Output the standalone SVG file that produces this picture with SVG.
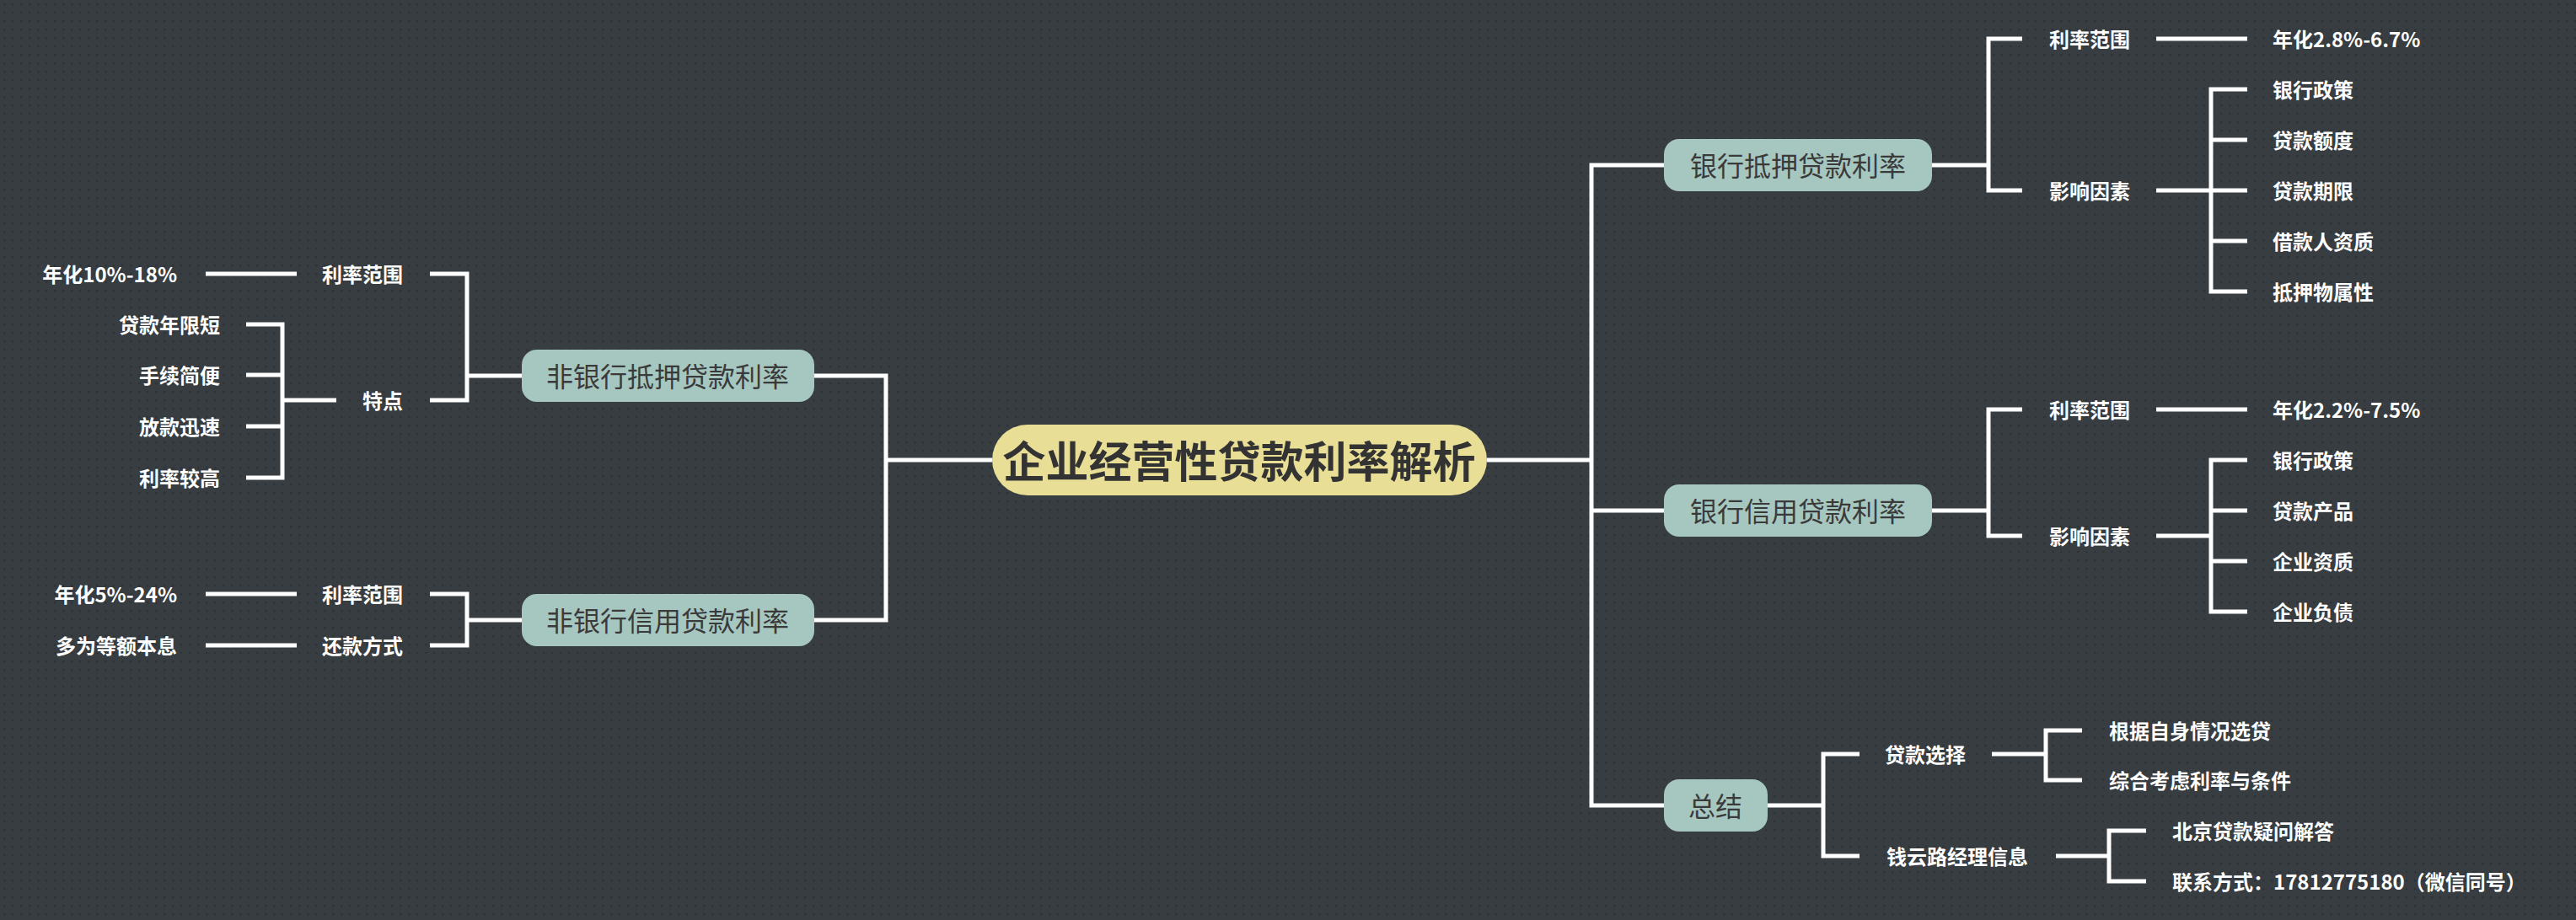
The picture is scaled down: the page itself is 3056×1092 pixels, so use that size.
<svg xmlns="http://www.w3.org/2000/svg" width="3056" height="1092" viewBox="0 0 3056 1092">
<defs>
<pattern id="dots" x="0" y="0" width="10" height="10" patternUnits="userSpaceOnUse">
<rect width="10" height="10" fill="#373d41"/>
<rect x="4" y="4" width="2.5" height="2.5" fill="#2e3337"/>
</pattern>
<style>
.ln{fill:none;stroke:#ffffff;stroke-width:5;stroke-linejoin:miter;stroke-linecap:butt}
.t{font-family:"Noto Sans CJK SC","Microsoft YaHei",sans-serif;font-weight:700;font-size:24px;fill:#ffffff;dominant-baseline:central}
.tl{text-anchor:end}
.br rect{fill:#a6c6c0}
.br text{font-family:"Noto Sans CJK SC","Microsoft YaHei",sans-serif;font-size:32px;fill:#3a3a3a;text-anchor:middle;dominant-baseline:central}
.root rect{fill:#e8de96}
.root text{font-family:"Noto Sans CJK SC","Microsoft YaHei",sans-serif;font-weight:700;font-size:51px;fill:#333333;text-anchor:middle;dominant-baseline:central}
</style>
</defs>
<rect width="3056" height="1092" fill="url(#dots)"/>

<g id="connectors">
<path class="ln" d="M966 446 H1051 V736 H966"/>
<path class="ln" d="M1051 546 H1177"/>
<path class="ln" d="M1764 546 H1888"/>
<path class="ln" d="M1974 196 H1888 V956 H1974"/>
<path class="ln" d="M1888 606 H1974"/>
<path class="ln" d="M619 446 H554"/>
<path class="ln" d="M510 325 H554 V475 H510"/>
<path class="ln" d="M352 325 H244"/>
<path class="ln" d="M399 475 H335"/>
<path class="ln" d="M292 385 H335 V567 H292"/>
<path class="ln" d="M335 445 H292 M335 506 H292"/>
<path class="ln" d="M619 736 H554"/>
<path class="ln" d="M510 705 H554 V766 H510"/>
<path class="ln" d="M352 705 H244"/>
<path class="ln" d="M352 766 H244"/>
<path class="ln" d="M2292 196 H2359"/>
<path class="ln" d="M2399 46 H2359 V226 H2399"/>
<path class="ln" d="M2558 46 H2666"/>
<path class="ln" d="M2558 226 H2666"/>
<path class="ln" d="M2666 106 H2623 V346 H2666"/>
<path class="ln" d="M2623 166 H2666 M2623 286 H2666"/>
<path class="ln" d="M2292 606 H2359"/>
<path class="ln" d="M2399 486 H2359 V636 H2399"/>
<path class="ln" d="M2558 486 H2666"/>
<path class="ln" d="M2558 636 H2623"/>
<path class="ln" d="M2666 546 H2623 V726 H2666"/>
<path class="ln" d="M2623 606 H2666 M2623 666 H2666"/>
<path class="ln" d="M2097 956 H2163"/>
<path class="ln" d="M2206 895 H2163 V1016 H2206"/>
<path class="ln" d="M2363 895 H2427"/>
<path class="ln" d="M2470 867 H2427 V926 H2470"/>
<path class="ln" d="M2439 1016 H2502"/>
<path class="ln" d="M2546 986 H2502 V1046 H2546"/>
</g>

<g id="root" class="root">
<rect x="1177" y="504" width="587" height="84" rx="42"/>
<text x="1470" y="545">企业经营性贷款利率解析</text>
</g>

<g id="n-nonbank-mortgage" class="br">
<rect x="619" y="415" width="347" height="62" rx="18"/>
<text x="792" y="445">非银行抵押贷款利率</text>
</g>
<g id="n-nonbank-credit" class="br">
<rect x="619" y="705" width="347" height="62" rx="18"/>
<text x="792" y="735">非银行信用贷款利率</text>
</g>
<g id="n-bank-mortgage" class="br">
<rect x="1974" y="165" width="318" height="62" rx="18"/>
<text x="2133" y="195">银行抵押贷款利率</text>
</g>
<g id="n-bank-credit" class="br">
<rect x="1974" y="575" width="318" height="62" rx="18"/>
<text x="2133" y="605">银行信用贷款利率</text>
</g>
<g id="n-summary" class="br">
<rect x="1974" y="925" width="123" height="62" rx="18"/>
<text x="2035" y="955">总结</text>
</g>

<g id="l1-range"><text class="t tl" x="478" y="324">利率范围</text></g>
<g id="l1-range-v"><text class="t tl" x="210" y="324">年化10%-18%</text></g>
<g id="l1-feat"><text class="t tl" x="478" y="474">特点</text></g>
<g id="l1-f1"><text class="t tl" x="261" y="384">贷款年限短</text></g>
<g id="l1-f2"><text class="t tl" x="261" y="444">手续简便</text></g>
<g id="l1-f3"><text class="t tl" x="261" y="505">放款迅速</text></g>
<g id="l1-f4"><text class="t tl" x="261" y="566">利率较高</text></g>
<g id="l2-range"><text class="t tl" x="478" y="704">利率范围</text></g>
<g id="l2-range-v"><text class="t tl" x="210" y="704">年化5%-24%</text></g>
<g id="l2-repay"><text class="t tl" x="478" y="765">还款方式</text></g>
<g id="l2-repay-v"><text class="t tl" x="210" y="765">多为等额本息</text></g>

<g id="r1-range"><text class="t" x="2431" y="45">利率范围</text></g>
<g id="r1-range-v"><text class="t" x="2696" y="45">年化2.8%-6.7%</text></g>
<g id="r1-fac"><text class="t" x="2431" y="225">影响因素</text></g>
<g id="r1-f1"><text class="t" x="2696" y="105">银行政策</text></g>
<g id="r1-f2"><text class="t" x="2696" y="165">贷款额度</text></g>
<g id="r1-f3"><text class="t" x="2696" y="225">贷款期限</text></g>
<g id="r1-f4"><text class="t" x="2696" y="285">借款人资质</text></g>
<g id="r1-f5"><text class="t" x="2696" y="345">抵押物属性</text></g>

<g id="r2-range"><text class="t" x="2431" y="485">利率范围</text></g>
<g id="r2-range-v"><text class="t" x="2696" y="485">年化2.2%-7.5%</text></g>
<g id="r2-fac"><text class="t" x="2431" y="635">影响因素</text></g>
<g id="r2-f1"><text class="t" x="2696" y="545">银行政策</text></g>
<g id="r2-f2"><text class="t" x="2696" y="605">贷款产品</text></g>
<g id="r2-f3"><text class="t" x="2696" y="665">企业资质</text></g>
<g id="r2-f4"><text class="t" x="2696" y="725">企业负债</text></g>

<g id="s-choice"><text class="t" x="2236" y="894">贷款选择</text></g>
<g id="s-c1"><text class="t" x="2502" y="866">根据自身情况选贷</text></g>
<g id="s-c2"><text class="t" x="2502" y="925">综合考虑利率与条件</text></g>
<g id="s-mgr"><text class="t" x="2238" y="1015">钱云路经理信息</text></g>
<g id="s-m1"><text class="t" x="2577" y="985">北京贷款疑问解答</text></g>
<g id="s-m2"><text class="t" x="2577" y="1045">联系方式：17812775180（微信同号）</text></g>
</svg>
